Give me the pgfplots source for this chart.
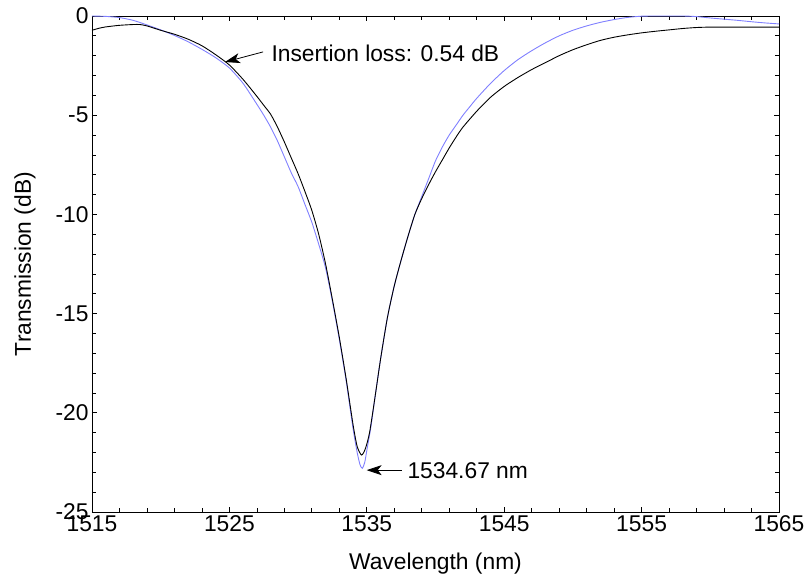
\documentclass[border=0pt]{standalone}
\usepackage{pgfplots}
\pgfplotsset{compat=1.18}
\usepackage{fontspec}
\setmainfont{Liberation Sans}
\usetikzlibrary{arrows.meta,calc}
\definecolor{fitblue}{RGB}{128,128,255}
\newcommand{\chartfont}{\fontsize{22.8bp}{27bp}\selectfont}
\begin{document}
\begin{tikzpicture}
\begin{axis}[
  scale only axis, width=687bp, height=496bp,
  xmin=1515, xmax=1565, ymin=-25, ymax=0,
  xtick={1515,1525,1535,1545,1555,1565},
  xticklabels={1515,1525,1535,1545,1555,1565},
  ytick={-25,-20,-15,-10,-5,0},
  yticklabels={-25,-20,-15,-10,-5,0},
  minor xtick={1517,1519,...,1563},
  minor ytick={-24,-23,...,-1},
  major tick length=5bp, minor tick length=4bp,
  tick align=inside,
  tick style={black, line width=0.7bp},
  axis line style={black, line width=0.8bp},
  tick label style={font=\chartfont},
  label style={font=\chartfont},
  xlabel={Wavelength (nm)},
  ylabel={Transmission (dB)},
  xlabel style={at={(axis description cs:0.5,-0.104)}, anchor=center},
  ylabel style={at={(axis description cs:-0.0975,0.5)}, anchor=center},
]
\addplot[fitblue, line width=0.9bp, smooth, tension=0.4] coordinates {
(1515.0,0.0) (1516.0,-0.02) (1517.0,-0.08) (1518.0,-0.22) (1519.0,-0.45)
(1520.0,-0.70) (1521.0,-0.98) (1522.0,-1.30) (1523.0,-1.68) (1524.0,-2.10)
(1525.0,-2.62) (1526.0,-3.40) (1527.0,-4.45) (1527.5,-5.0) (1528.0,-5.6)
(1528.5,-6.3) (1529.0,-7.1) (1529.5,-7.9) (1530.0,-8.6) (1530.5,-9.5)
(1531.0,-10.4) (1531.5,-11.5) (1532.0,-12.7) (1532.5,-14.4) (1533.0,-16.3)
(1533.5,-18.4) (1534.0,-20.8) (1534.3,-22.0) (1534.5,-22.6) (1534.67,-22.8)
(1534.85,-22.5) (1535.0,-21.9) (1535.3,-20.7) (1535.6,-19.2) (1536.0,-17.3)
(1536.5,-15.2) (1537.0,-13.6) (1537.5,-12.3) (1538.0,-11.1) (1538.5,-10.0)
(1539.0,-9.1) (1539.5,-8.2) (1540.0,-7.3) (1540.5,-6.6) (1541.0,-6.0)
(1541.5,-5.5) (1542.0,-5.0) (1542.5,-4.57) (1543.0,-4.15) (1544.0,-3.4)
(1545.0,-2.75) (1546.0,-2.2) (1547.0,-1.75) (1548.0,-1.35) (1549.0,-1.0)
(1550.0,-0.72) (1551.0,-0.5) (1552.0,-0.32) (1553.0,-0.18) (1554.0,-0.07)
(1555.0,-0.01) (1556.0,0.0) (1558.0,0.0) (1559.0,-0.03) (1560.0,-0.1)
(1561.0,-0.16) (1562.0,-0.22) (1563.0,-0.29) (1564.0,-0.35) (1565.0,-0.4)
};
\addplot[black, line width=0.9bp, smooth, tension=0.4] coordinates {
(1515.0,-0.72) (1515.5,-0.62) (1516.0,-0.55) (1517.0,-0.47) (1518.0,-0.43)
(1518.5,-0.43) (1519.0,-0.5) (1520.0,-0.72) (1521.0,-0.92) (1522.0,-1.17)
(1523.0,-1.5) (1524.0,-1.95) (1525.0,-2.47) (1526.0,-3.2) (1527.0,-4.05)
(1527.5,-4.5) (1528.0,-4.95) (1528.5,-5.6) (1529.0,-6.35) (1529.5,-7.15)
(1530.0,-7.95) (1530.5,-8.85) (1531.0,-9.8) (1531.5,-11.0) (1532.0,-12.5)
(1532.5,-14.3) (1533.0,-16.2) (1533.5,-18.3) (1534.0,-20.6) (1534.3,-21.7)
(1534.62,-22.13) (1534.9,-21.8) (1535.2,-21.0) (1535.6,-19.2) (1536.0,-17.3)
(1536.5,-15.2) (1537.0,-13.6) (1537.5,-12.3) (1538.0,-11.1) (1538.5,-10.0)
(1539.0,-9.2) (1539.5,-8.5) (1540.0,-7.85) (1540.5,-7.25) (1541.0,-6.65)
(1541.5,-6.1) (1542.0,-5.6) (1543.0,-4.8) (1544.0,-4.1) (1545.0,-3.55)
(1546.0,-3.1) (1547.0,-2.7) (1548.0,-2.35) (1549.0,-2.0) (1550.0,-1.7)
(1551.0,-1.45) (1552.0,-1.23) (1553.0,-1.07) (1554.0,-0.95) (1555.0,-0.85)
(1556.0,-0.77) (1557.0,-0.7) (1558.0,-0.63) (1559.0,-0.58) (1560.0,-0.56)
(1562.0,-0.56) (1565.0,-0.56)
};
\draw[-{Stealth[length=15bp,width=10bp,inset=4bp]}, line width=0.8bp]
  (axis cs:1527.45,-1.81) -- (axis cs:1524.68,-2.32);
\node[anchor=west, inner sep=0pt, font=\chartfont] at (axis cs:1528.05,-1.865) {Insertion loss: 0.54 dB};
\draw[-{Stealth[length=15bp,width=10bp,inset=4bp]}, line width=0.8bp]
  (axis cs:1537.54,-22.89) -- (axis cs:1534.99,-22.89);
\node[anchor=west, inner sep=0pt, font=\chartfont] at (axis cs:1537.95,-22.91) {1534.67 nm};
\end{axis}
\pgfresetboundingbox
\path[use as bounding box] ($(current axis.south west)+(-92bp,-68bp)$) rectangle ($(current axis.north east)+(28bp,16bp)$);
\end{tikzpicture}
\end{document}
